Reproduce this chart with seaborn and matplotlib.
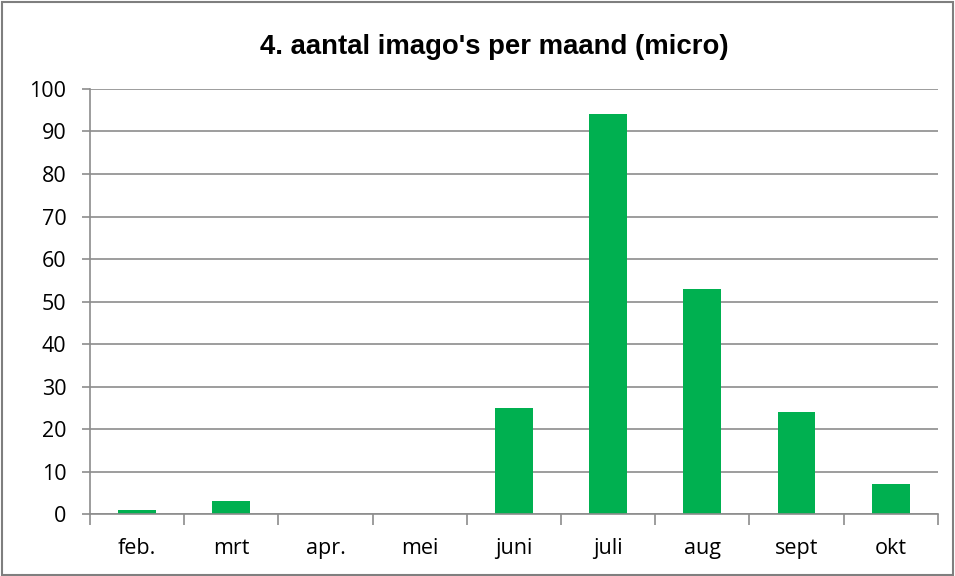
import numpy as np
import pandas as pd
import matplotlib
matplotlib.use('Agg')
import matplotlib.pyplot as plt
import seaborn as sns
from matplotlib.patches import Rectangle

# data
months = ['feb.', 'mrt', 'apr.', 'mei', 'juni', 'juli', 'aug', 'sept', 'okt']
counts = [1, 3, 0, 0, 25, 94, 53, 24, 7]
title = "4. aantal imago's per maand (micro)"

sns.set_style('white')
plt.rcParams['font.family'] = ['Open Sans', 'DejaVu Sans']
plt.rcParams['text.color'] = 'black'
plt.rcParams['xtick.color'] = 'black'
plt.rcParams['ytick.color'] = 'black'

df = pd.DataFrame({'maand': months, 'aantal': counts})

fig = plt.figure(figsize=(9.55, 5.76), dpi=100)
ax = fig.add_axes([0.0942, 0.1076, 0.8878, 0.7379])

grid_col = '#8c8c8c'
ax.set_axisbelow(True)
ax.yaxis.grid(True, color=grid_col, linewidth=1.2)

sns.barplot(data=df, x='maand', y='aantal', color='#00B050', width=0.4,
            saturation=1, linewidth=0, ax=ax)

ax.set_xlim(-0.5, len(months) - 0.5)
ax.set_ylim(0, 100)
ax.set_yticks(np.arange(0, 101, 10))
ax.set_xlabel('')
ax.set_ylabel('')

# ticks between categories, like the original
ax.set_xticks(np.arange(-0.5, len(months), 1), minor=True)
ax.tick_params(axis='x', which='major', length=0, pad=17, labelsize=15.5,
               labelcolor='black')
ax.tick_params(axis='x', which='minor', length=8, width=1.2, color=grid_col,
               direction='out', bottom=True)
ax.tick_params(axis='y', length=6, width=1.2, color=grid_col, direction='out',
               left=True, pad=11, labelsize=15.5, labelcolor='black')

for s in ['top', 'right']:
    ax.spines[s].set_visible(False)
for s in ['left', 'bottom']:
    ax.spines[s].set_color(grid_col)
    ax.spines[s].set_linewidth(1.2)

fig.text(0.518, 0.918, title, ha='center', va='center', fontsize=19.8,
         fontweight='bold', color='black',
         family=['Liberation Sans', 'DejaVu Sans'])

# chart frame
fig.patches.append(Rectangle((0.002, 0.002), 0.996, 0.994,
                             transform=fig.transFigure, fill=False,
                             edgecolor='#7f7f7f', linewidth=1.5))

fig.savefig('out.png', dpi=100)
